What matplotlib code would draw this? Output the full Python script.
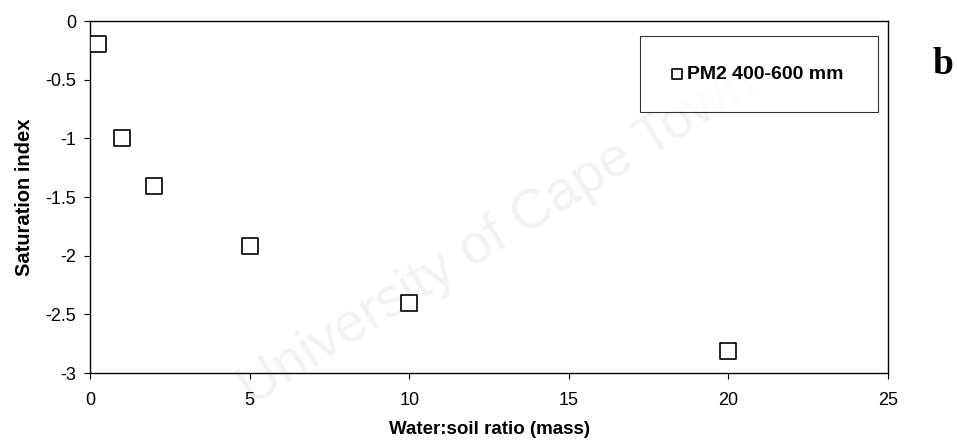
import matplotlib.pyplot as plt

plt.rcParams['font.family'] = ['Liberation Sans', 'DejaVu Sans']

# data
ratio = [0.25, 1, 2, 5, 10, 20]
sat_index = [-0.2, -1.0, -1.41, -1.92, -2.40, -2.81]
series_label = 'PM2 400-600 mm'

fig = plt.figure(figsize=(9.57, 4.45), dpi=100)
ax = fig.add_axes([90/957, 1-373/445, (888-90)/957, (373-21)/445])

# faint watermark behind everything
fig.text(0.52, 0.47, 'University of Cape Town', fontsize=40, color='#f2f2f2',
         rotation=32, ha='center', va='center', zorder=-1)
ax.set_facecolor('none')

ax.scatter(ratio, sat_index, marker='s', s=120, facecolors='white',
           edgecolors='black', linewidths=1.2, label=series_label, zorder=3)

ax.set_xlim(0, 25)
ax.set_ylim(-3, 0)
ax.set_xticks([0, 5, 10, 15, 20, 25])
ax.set_yticks([0, -0.5, -1, -1.5, -2, -2.5, -3])
ax.set_yticklabels(['0', '-0.5', '-1', '-1.5', '-2', '-2.5', '-3'])
ax.tick_params(direction='out', length=4, width=0.8, labelsize=13)
ax.tick_params(axis='x', pad=10)
ax.tick_params(axis='y', pad=6)
for s in ax.spines.values():
    s.set_linewidth(1.0)

ax.set_xlabel('Water:soil ratio (mass)', fontsize=13.5, fontweight='bold', labelpad=8)
ax.set_ylabel('Saturation index', fontsize=14.5, fontweight='bold', labelpad=8)

leg = ax.legend(loc='upper right', bbox_to_anchor=(878/957, 1-36/445),
                bbox_transform=fig.transFigure, frameon=True, fancybox=False,
                edgecolor='black', prop={'weight': 'bold', 'size': 14},
                handlelength=0.8, handletextpad=0.1, markerscale=0.67,
                borderpad=1.5, borderaxespad=0)
leg.get_frame().set_linewidth(0.8)
for t in leg.get_texts():
    t.set_text(series_label + ' ')

fig.text(943/957, 1-64/445, 'b', fontsize=27, fontweight='bold',
         family='Liberation Serif', ha='center', va='center')

fig.savefig('out.png', dpi=100)
